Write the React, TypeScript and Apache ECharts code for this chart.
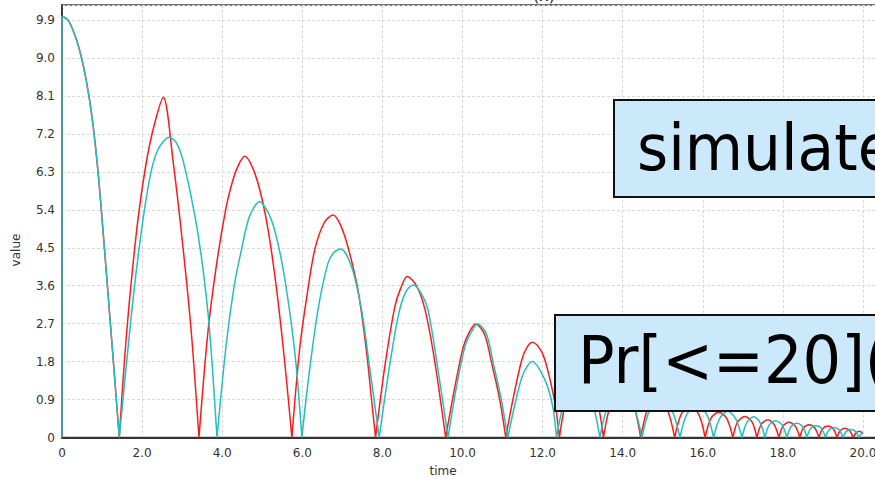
import React, { useEffect, useRef } from "react";
import * as echarts from "echarts";

// Axis settings (value units)
const X_MAX = 20.6;
const X_INTERVAL = 2;
const Y_MAX = 10.26;
const Y_INTERVAL = 0.9;

const xAxisName = "time";
const yAxisName = "value";
const titleText = "(x)";
const boxLabels = ["simulate", "Pr[<=20]("];

// Red trajectory, one array per bounce arc: [time, value]
const redArcs: number[][][] = [
  [[0, 0], [0, 10.0]],
  [[0, 10.0], [0.15, 9.9], [0.3, 9.6], [0.45, 9.15], [0.6, 8.5], [0.75, 7.6], [0.9, 6.3], [1.05, 4.6], [1.2, 2.8], [1.32, 1.35], [1.43, 0]],
  [[1.43, 0], [1.55, 1.7], [1.7, 3.4], [1.9, 5.2], [2.1, 6.5], [2.3, 7.4], [2.53, 8.07], [2.77, 6.58], [3.02, 4.52], [3.23, 2.48], [3.42, 0]],
  [[3.42, 0], [3.64, 2.47], [3.85, 4.05], [4.1, 5.47], [4.25, 6.05], [4.4, 6.45], [4.56, 6.67], [4.76, 6.4], [4.96, 5.8], [5.16, 4.85], [5.36, 3.5], [5.56, 1.8], [5.74, 0]],
  [[5.74, 0], [5.93, 2.07], [6.1, 3.26], [6.31, 4.45], [6.55, 5.1], [6.77, 5.28], [6.95, 5.05], [7.14, 4.52], [7.39, 3.5], [7.6, 2.07], [7.73, 0.89], [7.83, 0]],
  [[7.83, 0], [8.06, 1.68], [8.31, 3.1], [8.46, 3.55], [8.62, 3.82], [8.85, 3.6], [9.06, 3.05], [9.3, 1.85], [9.58, 0]],
  [[9.58, 0], [9.81, 1.2], [10.02, 2.15], [10.17, 2.5], [10.33, 2.69], [10.55, 2.45], [10.73, 1.76], [10.93, 0.9], [11.08, 0]],
  [[11.08, 0], [11.28, 1.0], [11.48, 1.84], [11.6, 2.12], [11.74, 2.26], [11.9, 2.15], [12.06, 1.84], [12.31, 0.81], [12.42, 0]],
  [[12.42, 0], [12.65, 1.1], [12.97, 1.5], [13.3, 1.1], [13.52, 0]],
  [[13.52, 0], [13.72, 0.85], [14.0, 1.2], [14.25, 0.85], [14.45, 0]],
  [[14.45, 0], [14.63, 0.7], [14.86, 0.95], [15.1, 0.7], [15.3, 0]],
  [[15.3, 0], [15.46, 0.55], [15.68, 0.75], [15.9, 0.55], [16.06, 0]],
  [[16.06, 0], [16.2, 0.45], [16.4, 0.6], [16.6, 0.45], [16.75, 0]],
  [[16.75, 0], [16.87, 0.37], [17.05, 0.5], [17.23, 0.37], [17.35, 0]],
  [[17.35, 0], [17.46, 0.31], [17.62, 0.42], [17.78, 0.31], [17.9, 0]],
  [[17.9, 0], [18.0, 0.27], [18.15, 0.36], [18.31, 0.27], [18.42, 0]],
  [[18.42, 0], [18.51, 0.22], [18.66, 0.3], [18.8, 0.22], [18.9, 0]],
  [[18.9, 0], [18.99, 0.2], [19.12, 0.27], [19.26, 0.2], [19.35, 0]],
  [[19.35, 0], [19.43, 0.16], [19.55, 0.22], [19.67, 0.16], [19.75, 0]],
  [[19.75, 0], [19.83, 0.11], [19.92, 0.15], [20.0, 0.08]],
];

// Cyan trajectory, one array per bounce arc: [time, value]
const cyanArcs: number[][][] = [
  [[0, 0], [0, 10.0]],
  [[0, 10.0], [0.15, 9.9], [0.3, 9.6], [0.45, 9.15], [0.6, 8.5], [0.75, 7.6], [0.9, 6.3], [1.05, 4.6], [1.2, 2.8], [1.32, 1.35], [1.43, 0]],
  [[1.43, 0], [1.72, 2.79], [1.93, 4.52], [2.18, 6.1], [2.39, 6.82], [2.68, 7.12], [2.85, 7.0], [3.02, 6.58], [3.3, 5.35], [3.5, 4.15], [3.68, 2.6], [3.87, 0]],
  [[3.87, 0], [4.1, 2.2], [4.3, 3.6], [4.48, 4.45], [4.68, 5.24], [4.93, 5.59], [5.23, 5.16], [5.48, 4.21], [5.68, 3.02], [5.85, 1.68], [5.99, 0]],
  [[5.99, 0], [6.14, 1.28], [6.39, 3.02], [6.64, 4.13], [6.8, 4.4], [6.96, 4.47], [7.23, 4.05], [7.48, 3.02], [7.68, 1.68], [7.92, 0]],
  [[7.92, 0], [8.14, 1.45], [8.39, 2.86], [8.58, 3.45], [8.77, 3.62], [8.95, 3.45], [9.14, 3.02], [9.39, 1.6], [9.64, 0]],
  [[9.64, 0], [9.85, 1.2], [10.06, 2.15], [10.22, 2.5], [10.38, 2.69], [10.6, 2.45], [10.77, 1.76], [10.97, 0.9], [11.13, 0]],
  [[11.13, 0], [11.35, 0.95], [11.52, 1.52], [11.74, 1.8], [12.06, 1.36], [12.25, 0.75], [12.35, 0]],
  [[12.35, 0], [12.58, 0.95], [12.9, 1.3], [13.2, 0.95], [13.43, 0]],
  [[13.43, 0], [13.65, 0.8], [13.95, 1.1], [14.25, 0.8], [14.48, 0]],
  [[14.48, 0], [14.68, 0.66], [14.95, 0.9], [15.22, 0.66], [15.43, 0]],
  [[15.43, 0], [15.6, 0.55], [15.85, 0.75], [16.1, 0.55], [16.27, 0]],
  [[16.27, 0], [16.42, 0.45], [16.62, 0.62], [16.82, 0.45], [16.98, 0]],
  [[16.98, 0], [17.1, 0.36], [17.27, 0.49], [17.43, 0.36], [17.55, 0]],
  [[17.55, 0], [17.66, 0.3], [17.82, 0.4], [17.98, 0.3], [18.1, 0]],
  [[18.1, 0], [18.2, 0.25], [18.35, 0.34], [18.5, 0.25], [18.6, 0]],
  [[18.6, 0], [18.69, 0.21], [18.83, 0.28], [18.97, 0.21], [19.06, 0]],
  [[19.06, 0], [19.15, 0.18], [19.28, 0.24], [19.41, 0.18], [19.5, 0]],
  [[19.5, 0], [19.58, 0.14], [19.7, 0.19], [19.82, 0.14], [19.9, 0]],
  [[19.9, 0], [19.95, 0.08], [20.0, 0.12]],
];

const RED = "#ff1a1a";
const CYAN = "#22bfbf";

function flatten(arcs: number[][][]): (number | null)[][] {
  const out: (number | null)[][] = [];
  arcs.forEach((arc, i) => {
    arc.forEach((p) => out.push([p[0], p[1]]));
    if (i < arcs.length - 1) out.push([arc[arc.length - 1][0], null]);
  });
  return out;
}

const fmt = (v: number) => (Math.abs(v) < 1e-9 ? "0" : v.toFixed(1));

export default function App() {
  const ref = useRef<HTMLDivElement>(null);

  useEffect(() => {
    if (!ref.current) return;
    const chart = echarts.init(ref.current, undefined, { renderer: "svg" });
    const font = "DejaVu Sans";
    const option: any = {
      animation: false,
      backgroundColor: "#ffffff",
      grid: {
        left: 62,
        right: 13,
        top: 5,
        bottom: 41.5,
        show: true,
        borderColor: "#444444",
        borderWidth: 1.5,
        backgroundColor: "transparent",
      },
      xAxis: {
        type: "value",
        min: 0,
        max: X_MAX,
        interval: X_INTERVAL,
        axisLine: { show: true, onZero: false, lineStyle: { color: "#333333", width: 2 } },
        axisTick: { show: false },
        axisLabel: {
          color: "#333333",
          fontFamily: font,
          fontSize: 12,
          margin: 9,
          showMaxLabel: false,
          formatter: (v: number) => fmt(v),
        },
        splitLine: { show: true, lineStyle: { color: "#d9d9d9", type: [3, 2], width: 1 } },
      },
      yAxis: {
        type: "value",
        min: 0,
        max: Y_MAX,
        interval: Y_INTERVAL,
        axisLine: { show: true, onZero: false, lineStyle: { color: "#222222", width: 1.5 } },
        axisTick: { show: false },
        axisLabel: {
          color: "#333333",
          fontFamily: font,
          fontSize: 12,
          margin: 7,
          showMaxLabel: false,
          formatter: (v: number) => fmt(v),
        },
        splitLine: { show: true, lineStyle: { color: "#d9d9d9", type: [3, 2], width: 1 } },
      },
      series: [
        {
          type: "line",
          name: "red",
          data: flatten(redArcs),
          showSymbol: false,
          smooth: 0.3,
          connectNulls: false,
          lineStyle: { color: RED, width: 1.5 },
          itemStyle: { color: RED },
          z: 2,
        },
        {
          type: "line",
          name: "cyan",
          data: flatten(cyanArcs),
          showSymbol: false,
          smooth: 0.3,
          connectNulls: false,
          lineStyle: { color: CYAN, width: 1.5 },
          itemStyle: { color: CYAN },
          z: 3,
        },
      ],
      graphic: [
        {
          type: "text",
          x: 533,
          y: 3,
          style: { text: titleText, fontFamily: font, fontSize: 16, fill: "#1a1a33", verticalAlign: "bottom", align: "left" },
        },
        {
          type: "text",
          x: 443,
          y: 471,
          style: { text: xAxisName, fontFamily: font, fontSize: 12, fill: "#333333", align: "center", verticalAlign: "middle" },
        },
        {
          type: "text",
          x: 16,
          y: 250,
          rotation: Math.PI / 2,
          style: { text: yAxisName, fontFamily: font, fontSize: 12, fill: "#333333", align: "center", verticalAlign: "middle" },
        },
        {
          type: "rect",
          z: 100,
          shape: { x: 614, y: 100, width: 320, height: 97 },
          style: { fill: "#cce9fc", stroke: "#111111", lineWidth: 2 },
        },
        {
          type: "text",
          z: 101,
          x: 637,
          y: 148,
          scaleX: 0.935,
          style: { text: boxLabels[0], fontFamily: font, fontSize: 64, fill: "#000000", align: "left", verticalAlign: "middle" },
        },
        {
          type: "rect",
          z: 100,
          shape: { x: 555, y: 315, width: 360, height: 96 },
          style: { fill: "#cce9fc", stroke: "#111111", lineWidth: 2 },
        },
        {
          type: "text",
          z: 101,
          x: 578,
          y: 360,
          scaleX: 0.92,
          style: { text: boxLabels[1], fontFamily: font, fontSize: 66, fill: "#000000", align: "left", verticalAlign: "middle" },
        },
      ],
    };
    chart.setOption(option);
    return () => chart.dispose();
  }, []);

  return (
    <div style={{ position: "fixed", left: 0, top: 0, width: 875, height: 479, overflow: "hidden", background: "#fff" }}>
      <div ref={ref} style={{ width: 900, height: 479 }} />
    </div>
  );
}
